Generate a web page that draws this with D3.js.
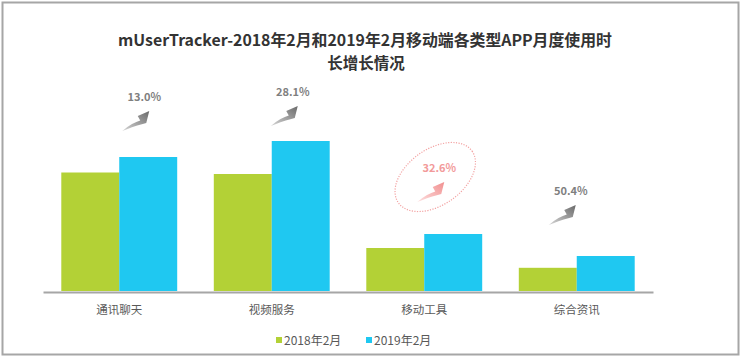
<!DOCTYPE html>
<html>
<head>
<meta charset="utf-8">
<script src="https://cdn.jsdelivr.net/npm/d3@7"></script>
<style>
  body { margin: 0; background: #fff; }
  svg { display: block; font-family: "Microsoft YaHei", "Noto Sans CJK SC", "Noto Sans", sans-serif; }
</style>
</head>
<body>
<div id="chart"></div>
<script>
// data
var categories = ["通讯聊天", "视频服务", "移动工具", "综合资讯"];
var seriesNames = ["2018年2月", "2019年2月"];
var values2018 = [11.85, 11.7, 4.3, 2.32];
var values2019 = [13.4, 15.0, 5.7, 3.5];
var growthLabels = ["13.0%", "28.1%", "32.6%", "50.4%"];

var width = 742, height = 359;
var colors = ["#b3d136", "#1fc8f1"];

var svg = d3.select("#chart").append("svg")
  .attr("width", width)
  .attr("height", height);

// frame
svg.append("rect")
  .attr("x", 2.5).attr("y", 2.5)
  .attr("width", 736).attr("height", 352)
  .attr("fill", "none")
  .attr("stroke", "#a6a6a6")
  .attr("stroke-width", 2);

// title
var title = svg.append("g").attr("fill", "#333").attr("font-weight", "bold")
  .attr("font-size", "15.5px").attr("text-anchor", "middle");
title.append("text").attr("x", 365).attr("y", 46)
  .attr("textLength", 494).attr("lengthAdjust", "spacingAndGlyphs")
  .text("mUserTracker-2018年2月和2019年2月移动端各类型APP月度使用时");
title.append("text").attr("x", 366).attr("y", 69).text("长增长情况");

// scales
var baseline = 291;
var x0 = d3.scaleBand().domain(categories).range([43, 653]).paddingInner(0.24).paddingOuter(0.12);
var x1 = d3.scaleBand().domain(seriesNames).range([0, x0.bandwidth()]);
var y = d3.scaleLinear().domain([0, 16]).range([baseline, baseline - 160]);

var rows = categories.map(function(c, i){
  return { cat: c, vals: [values2018[i], values2019[i]], growth: growthLabels[i] };
});

// bars
var groups = svg.selectAll("g.grp").data(rows).enter().append("g")
  .attr("class", "grp")
  .attr("transform", function(d){ return "translate(" + x0(d.cat) + ",0)"; });

groups.selectAll("rect").data(function(d){
    return d.vals.map(function(v, j){ return { name: seriesNames[j], v: v, j: j }; });
  }).enter().append("rect")
  .attr("x", function(d){ return x1(d.name); })
  .attr("y", function(d){ return y(d.v); })
  .attr("width", x1.bandwidth())
  .attr("height", function(d){ return baseline - y(d.v); })
  .attr("fill", function(d){ return colors[d.j]; });

// axis line + labels
var xAxis = d3.axisBottom(x0).tickSize(0).tickPadding(14);
var ax = svg.append("g").attr("transform", "translate(0," + (baseline + 1) + ")").call(xAxis);
ax.select(".domain").attr("stroke", "#a6a6a6").attr("stroke-width", 2);
ax.selectAll("text").attr("font-size", "11.5px").attr("fill", "#595959")
  .attr("font-family", "\"Microsoft YaHei\", \"Noto Sans CJK SC\", sans-serif");

// growth annotations (label offset from group centre / blue bar top)
var annoOffsets = [[25, -60], [21, -49], [15, -66], [-6, -65]];
var highlight = 2;

var defs = svg.append("defs");
function grad(id, c0, c1){
  var g = defs.append("linearGradient").attr("id", id)
    .attr("x1", "0%").attr("y1", "100%").attr("x2", "100%").attr("y2", "0%");
  g.append("stop").attr("offset", "0%").attr("stop-color", c0);
  g.append("stop").attr("offset", "100%").attr("stop-color", c1);
}
grad("gGray", "#d6d6d6", "#6a6a6a");
grad("gPink", "#fde0e0", "#f18f8f");

var arrowPath = "M0,0 C7,-6 13,-9 18,-10.5 L15.5,-15 L27,-20 L24,-8 L20.5,-7 C13,-5 6,-2.5 0,0 Z";

rows.forEach(function(d, i){
  var cx = x0(d.cat) + x0.bandwidth() / 2 + annoOffsets[i][0];
  var cy = y(d.vals[1]) + annoOffsets[i][1];
  var pink = i === highlight;
  svg.append("text")
    .attr("x", cx).attr("y", cy + 4)
    .attr("text-anchor", "middle")
    .attr("font-size", "11px")
    .attr("font-weight", "bold")
    .attr("fill", pink ? "#f29a9a" : "#7f7f7f")
    .text(d.growth);
  svg.append("path")
    .attr("d", arrowPath)
    .attr("transform", "translate(" + (cx - 22) + "," + (cy + 34) + ")")
    .attr("fill", pink ? "url(#gPink)" : "url(#gGray)");
  if (pink) {
    svg.append("ellipse")
      .attr("cx", 0).attr("cy", 0).attr("rx", 45).attr("ry", 28)
      .attr("transform", "translate(" + (cx - 4) + "," + (cy + 9) + ") rotate(-35)")
      .attr("fill", "none")
      .attr("stroke", "#f3a3a3")
      .attr("stroke-width", 1.2)
      .attr("stroke-dasharray", "1.2,1.4");
  }
});

// legend
var legend = svg.append("g").attr("transform", "translate(276,337)");
var legX = [0, 90];
seriesNames.forEach(function(n, j){
  var lg = legend.append("g").attr("transform", "translate(" + legX[j] + ",0)");
  lg.append("rect").attr("width", 6).attr("height", 6).attr("fill", colors[j]);
  lg.append("text").attr("x", 8).attr("y", 7.5)
    .attr("font-size", "12px").attr("fill", "#595959").text(n);
});
</script>
</body>
</html>
